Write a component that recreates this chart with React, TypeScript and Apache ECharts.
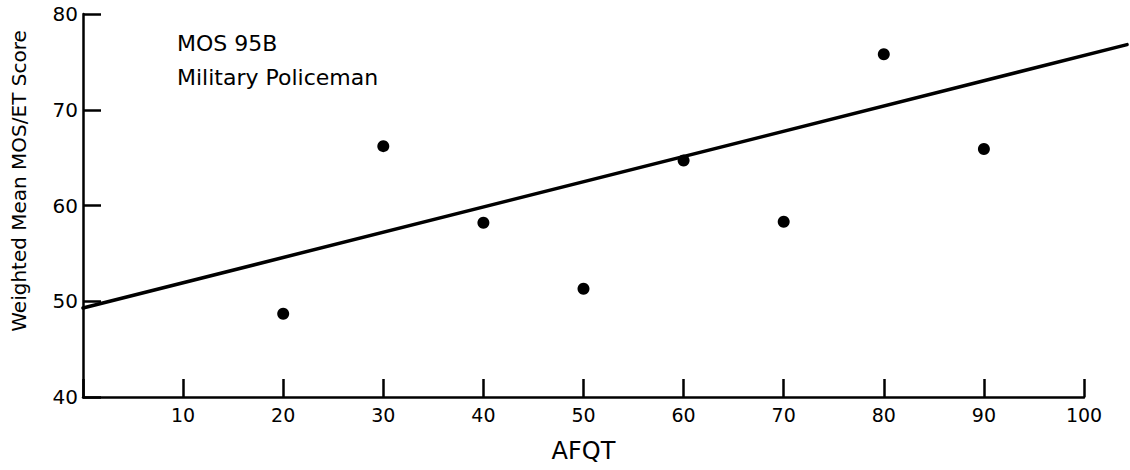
import React, { useEffect, useRef } from "react";
import * as echarts from "echarts";

const afqtLevels = [20, 30, 40, 50, 60, 70, 80, 90];
const meanScores = [48.7, 66.2, 58.2, 51.3, 64.7, 58.3, 75.8, 65.9];
const fitLineX = [0, 104.3];
const fitLineY = [49.3, 76.8];
const titleLines = ["MOS 95B", "Military Policeman"];
const xAxisName = "AFQT";
const yAxisName = "Weighted Mean MOS/ET Score";

const FONT = "'DejaVu Sans', 'Liberation Sans', sans-serif";

export default function App() {
  const ref = useRef<HTMLDivElement>(null);
  useEffect(() => {
    if (!ref.current) return;
    const chart = echarts.init(ref.current, undefined, { renderer: "svg" });
    chart.setOption({
      animation: false,
      backgroundColor: "#ffffff",
      grid: { left: 83, top: 14, width: 1001, height: 383, containLabel: false },
      xAxis: {
        type: "value",
        min: 0,
        max: 100,
        interval: 10,
        name: xAxisName,
        nameLocation: "middle",
        nameGap: 42,
        nameTextStyle: { color: "#000", fontSize: 24, fontFamily: FONT },
        axisLine: { show: true, onZero: false, lineStyle: { color: "#000", width: 2.5 } },
        axisTick: { show: true, inside: true, length: 18, lineStyle: { color: "#000", width: 2.5 } },
        axisLabel: {
          color: "#000",
          fontSize: 19,
          fontFamily: FONT,
          margin: 8,
          formatter: (v: number) => (v === 0 ? "" : String(v)),
        },
        splitLine: { show: false },
      },
      yAxis: {
        type: "value",
        min: 40,
        max: 80,
        interval: 10,
        axisLine: { show: true, onZero: false, lineStyle: { color: "#000", width: 2.5 } },
        axisTick: { show: true, inside: true, length: 18, lineStyle: { color: "#000", width: 2.5 } },
        axisLabel: { color: "#000", fontSize: 20, fontFamily: FONT, margin: 5 },
        splitLine: { show: false },
      },
      graphic: [
        {
          type: "text",
          x: 19,
          y: 181,
          rotation: Math.PI / 2,
          style: {
            text: yAxisName,
            fill: "#000",
            fontSize: 20,
            fontFamily: FONT,
            align: "center",
            verticalAlign: "middle",
          },
        },
        {
          type: "text",
          x: 177,
          y: 43,
          style: {
            text: titleLines[0],
            fill: "#000",
            fontSize: 22,
            fontFamily: FONT,
            align: "left",
            verticalAlign: "middle",
          },
        },
        {
          type: "text",
          x: 177,
          y: 77,
          style: {
            text: titleLines[1],
            fill: "#000",
            fontSize: 22,
            fontFamily: FONT,
            align: "left",
            verticalAlign: "middle",
          },
        },
      ],
      series: [
        {
          type: "custom",
          name: "fit",
          silent: true,
          clip: false,
          encode: { x: [0, 2], y: [1, 3] },
          data: [[fitLineX[0], fitLineY[0], fitLineX[1], fitLineY[1]]],
          renderItem: (params: any, api: any) => {
            const p1 = api.coord([api.value(0), api.value(1)]);
            const p2 = api.coord([api.value(2), api.value(3)]);
            return {
              type: "line",
              shape: { x1: p1[0], y1: p1[1], x2: p2[0], y2: p2[1] },
              style: { stroke: "#000", lineWidth: 3.5, lineCap: "round" },
            };
          },
        },
        {
          type: "scatter",
          data: afqtLevels.map((x, i) => [x, meanScores[i]]),
          symbol: "circle",
          symbolSize: 12,
          itemStyle: { color: "#000", opacity: 1 },
          clip: false,
        },
      ],
    });
    return () => chart.dispose();
  }, []);
  return (
    <div
      ref={ref}
      style={{ position: "fixed", left: 0, top: 0, width: 1130, height: 470, background: "#fff" }}
    />
  );
}
